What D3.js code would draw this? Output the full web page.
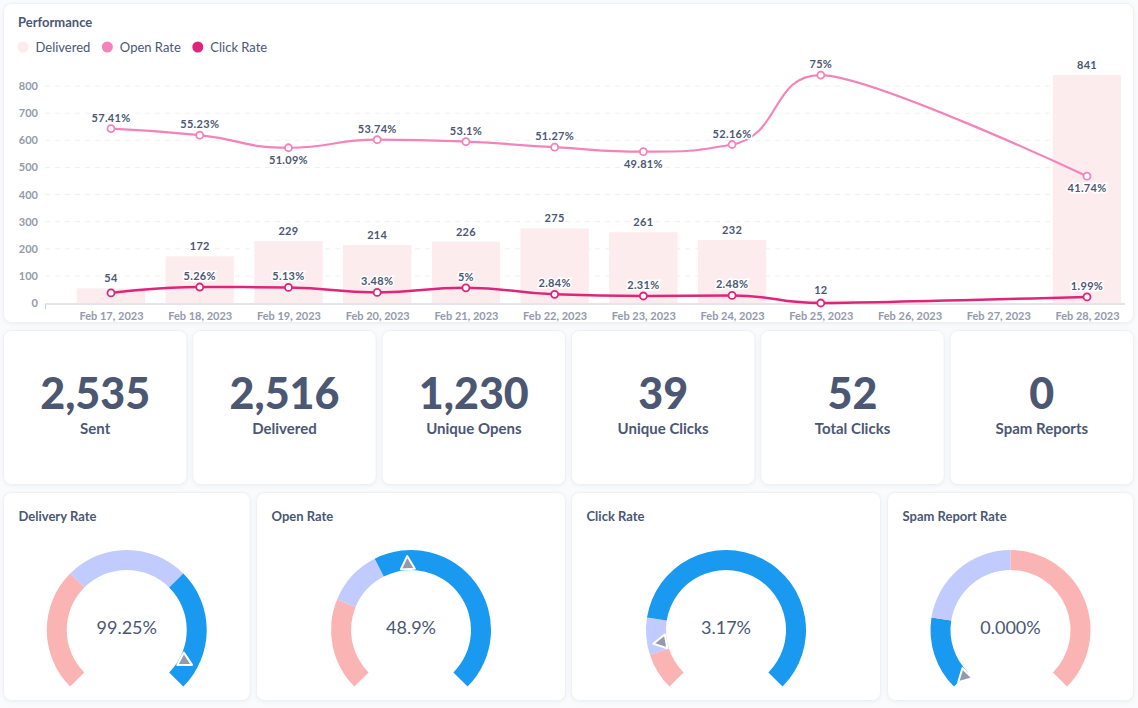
<!DOCTYPE html>
<html>
<head>
<meta charset="utf-8">
<script src="https://cdn.jsdelivr.net/npm/d3@7"></script>
<style>
  html, body { margin: 0; padding: 0; background: #f9fbfc; }
  svg { display: block; font-family: Lato, "Noto Sans", sans-serif; }
  .card { fill: #fff; stroke: #eef0f4; filter: drop-shadow(0 1px 2px rgba(0,0,0,0.05)); }
</style>
</head>
<body>
<script>
// performance chart data
var dates = ["Feb 17, 2023","Feb 18, 2023","Feb 19, 2023","Feb 20, 2023","Feb 21, 2023","Feb 22, 2023",
             "Feb 23, 2023","Feb 24, 2023","Feb 25, 2023","Feb 26, 2023","Feb 27, 2023","Feb 28, 2023"];
var delivered = [54, 172, 229, 214, 226, 275, 261, 232, 12, null, null, 841];
var openRate = [57.41, 55.23, 51.09, 53.74, 53.1, 51.27, 49.81, 52.16, 75, null, null, 41.74];
var clickRate = [3.3, 5.26, 5.13, 3.48, 5, 2.84, 2.31, 2.48, 0, null, null, 1.99];
var yTicks = [0, 100, 200, 300, 400, 500, 600, 700, 800];

// number cards
var statValues = [2535, 2516, 1230, 39, 52, 0];
var statLabels = ["Sent", "Delivered", "Unique Opens", "Unique Clicks", "Total Clicks", "Spam Reports"];

// gauges
var gaugeTitles = ["Delivery Rate", "Open Rate", "Click Rate", "Spam Report Rate"];
var gaugeValues = [99.25, 48.9, 3.17, 0];
var gaugeLabels = ["99.25%", "48.9%", "3.17%", "0.000%"];
var gaugeMins = [88, 0, 0, 0];
var gaugeMaxs = [100, 100, 25, 0.5];
var gaugeSegments = [
  [[88, 92, "red"], [92, 96, "lav"], [96, 100, "blue"]],
  [[0, 25, "red"], [25, 40, "lav"], [40, 100, "blue"]],
  [[0, 2.5, "red"], [2.5, 5, "lav"], [5, 25, "blue"]],
  [[0, 0.1, "blue"], [0.1, 0.25, "lav"], [0.25, 0.5, "red"]]
];

var textDark = "#4c5773";
var textLight = "#949aab";
var barColor = "#fdeced";
var openColor = "#f383ba";
var clickColor = "#e0247a";
var segColors = {"red": "#fbb4b4", "lav": "#c2cbfe", "blue": "#1a99f0"};

var W = 1138, H = 708;

var svg = d3.select("body").append("svg")
  .attr("width", W)
  .attr("height", H);

function card(x, y, w, h) {
  svg.append("rect").attr("class", "card")
    .attr("x", x).attr("y", y).attr("width", w).attr("height", h)
    .attr("rx", 8);
}

// smoothed path, bezier control points clamped between neighbours (no overshoot).
// a point followed by a gap (null) mirrors its incoming handle instead of
// stretching across the gap.
function smoothPath(pts, smooth) {
  var p = d3.path();
  var cp0x, cp0y;
  for (var i = 0; i < pts.length; i++) {
    var px = pts[i].x, py = pts[i].y;
    if (i === 0) { p.moveTo(px, py); cp0x = px; cp0y = py; continue; }
    var prev = pts[i - 1], next = pts[i + 1];
    var cp1x, cp1y, ncx, ncy;
    if (!next) {
      cp1x = px; cp1y = py;
    } else {
      var vx = next.x - prev.x, vy = next.y - prev.y;
      var lenPrev = Math.hypot(px - prev.x, py - prev.y);
      var lenNext = Math.hypot(next.x - px, next.y - py);
      var ratio = lenNext / (lenNext + lenPrev);
      ncx = px + vx * smooth * ratio;
      ncy = py + vy * smooth * ratio;
      ncx = Math.max(Math.min(ncx, Math.max(next.x, px)), Math.min(next.x, px));
      ncy = Math.max(Math.min(ncy, Math.max(next.y, py)), Math.min(next.y, py));
      vx = ncx - px; vy = ncy - py;
      cp1x = px - vx * lenPrev / lenNext;
      cp1y = py - vy * lenPrev / lenNext;
      cp1x = Math.max(Math.min(cp1x, Math.max(prev.x, px)), Math.min(prev.x, px));
      cp1y = Math.max(Math.min(cp1y, Math.max(prev.y, py)), Math.min(prev.y, py));
      vx = px - cp1x; vy = py - cp1y;
      if (pts[i].gapAfter) {
        ncx = px + vx; ncy = py + vy;
      } else {
        ncx = px + vx * lenNext / lenPrev;
        ncy = py + vy * lenNext / lenPrev;
      }
    }
    p.bezierCurveTo(cp0x, cp0y, cp1x, cp1y, px, py);
    cp0x = ncx; cp0y = ncy;
  }
  return p.toString();
}

// ---------- performance card ----------
card(3.5, 3.5, 1130, 319);

svg.append("text").attr("x", 18).attr("y", 26.5)
  .attr("fill", textDark).attr("font-size", 13).attr("font-weight", 700)
  .text("Performance");

var legend = [["Delivered", barColor], ["Open Rate", openColor], ["Click Rate", clickColor]];
var lx = 23;
legend.forEach(function(l) {
  svg.append("circle").attr("cx", lx).attr("cy", 47).attr("r", 5.5).attr("fill", l[1]);
  var t = svg.append("text").attr("x", lx + 12.5).attr("y", 51.5)
    .attr("fill", textDark).attr("font-size", 13)
    .text(l[0]);
  lx += 12.5 + t.node().getComputedTextLength() + 17;
});

var x = d3.scalePoint().domain(dates).range([111, 1087]);
var barW = x.step() * 0.77;
var y = d3.scaleLinear().domain([0, 900]).range([303, 59]);
var y2 = d3.scaleLinear().domain([0, 80.3]).range([303, 59]);

// grid
svg.append("g").selectAll("line")
  .data(yTicks.slice(1))
  .enter().append("line")
  .attr("x1", 45).attr("x2", 1120)
  .attr("y1", function(d) { return y(d); })
  .attr("y2", function(d) { return y(d); })
  .attr("stroke", "#edf0f3")
  .attr("stroke-dasharray", "5,5");

var yAxis = svg.append("g")
  .attr("transform", "translate(38,0)")
  .call(d3.axisLeft(y).tickValues(yTicks).tickSize(0).tickPadding(0));
yAxis.select(".domain").remove();
yAxis.selectAll("text").attr("fill", textLight).attr("font-size", 11)
  .attr("font-weight", 700).attr("font-family", "Lato");

// bars
var barData = dates.map(function(d, i) { return {date: d, v: delivered[i]}; })
  .filter(function(d) { return d.v !== null; });
svg.append("g").selectAll("rect")
  .data(barData)
  .enter().append("rect")
  .attr("x", function(d) { return x(d.date) - barW / 2; })
  .attr("y", function(d) { return y(d.v); })
  .attr("width", barW)
  .attr("height", function(d) { return y(0) - y(d.v); })
  .attr("fill", barColor);

// x axis
svg.append("line").attr("x1", 45).attr("x2", 1125).attr("y1", 304).attr("y2", 304)
  .attr("stroke", "#c9ccd5");
svg.append("line").attr("x1", 45.5).attr("x2", 45.5).attr("y1", 304).attr("y2", 309)
  .attr("stroke", "#c9ccd5");
var xAxis = svg.append("g")
  .attr("transform", "translate(0,304)")
  .call(d3.axisBottom(x).tickSize(0).tickPadding(8));
xAxis.select(".domain").remove();
xAxis.selectAll("text").attr("fill", textLight).attr("font-size", 11)
  .attr("font-weight", 700).attr("font-family", "Lato");

// lines
function seriesPoints(vals) {
  return dates.map(function(d, i) {
    return {date: d, v: vals[i], i: i, gapAfter: i < vals.length - 1 && vals[i + 1] === null};
  }).filter(function(d) { return d.v !== null; });
}
var openPts = seriesPoints(openRate);
var clickPts = seriesPoints(clickRate);

function toPx(pts) {
  return pts.map(function(d) { return {x: x(d.date), y: y2(d.v), gapAfter: d.gapAfter}; });
}

svg.append("path").attr("d", smoothPath(toPx(openPts), 0.5))
  .attr("fill", "none").attr("stroke", openColor).attr("stroke-width", 2.2);
svg.append("path").attr("d", smoothPath(toPx(clickPts), 0.5))
  .attr("fill", "none").attr("stroke", clickColor).attr("stroke-width", 2.5);

[[openPts, openColor], [clickPts, clickColor]].forEach(function(s) {
  svg.append("g").selectAll("circle")
    .data(s[0])
    .enter().append("circle")
    .attr("cx", function(d) { return x(d.date); })
    .attr("cy", function(d) { return y2(d.v); })
    .attr("r", 3.5)
    .attr("fill", "#fff")
    .attr("stroke", s[1])
    .attr("stroke-width", 1.8);
});

// labels
function label(px, py, txt) {
  svg.append("text").attr("x", px).attr("y", py)
    .attr("text-anchor", "middle")
    .attr("font-size", 11).attr("font-weight", 700)
    .attr("fill", textDark)
    .attr("stroke", "#fff").attr("stroke-width", 3).attr("paint-order", "stroke")
    .attr("letter-spacing", 0.3)
    .text(txt);
}
var barLabelY = {};
barData.forEach(function(d) {
  barLabelY[d.date] = y(d.v) - 6;
  label(x(d.date), y(d.v) - 6, d.v);
});
openPts.forEach(function(d, k) {
  var prev = openPts[k - 1], next = openPts[k + 1];
  var isMin = (!prev || d.v < prev.v) && (!next || d.v < next.v);
  var ly = isMin ? y2(d.v) + 16 : y2(d.v) - 7;
  label(x(d.date), ly, d.v + "%");
});
clickPts.forEach(function(d) {
  var ly = y2(d.v) - 7;
  if (barLabelY[d.date] !== undefined && Math.abs(barLabelY[d.date] - ly) < 12) return;
  label(x(d.date), ly, d.v + "%");
});

// ---------- number cards ----------
var statW = (1130 - 5 * 6) / 6;
var fmt = d3.format(",");
statValues.forEach(function(v, i) {
  var cx = 3.5 + i * (statW + 6);
  card(cx, 330.5, statW, 154);
  svg.append("text").attr("x", cx + statW / 2).attr("y", 409)
    .attr("text-anchor", "middle").attr("fill", textDark)
    .attr("font-size", 43).attr("font-weight", 900)
    .text(fmt(v));
  svg.append("text").attr("x", cx + statW / 2).attr("y", 434)
    .attr("text-anchor", "middle").attr("fill", textDark)
    .attr("font-size", 15).attr("font-weight", 700)
    .text(statLabels[i]);
});

// ---------- gauges ----------
var gaugeX = [3.5, 256.5, 571.5, 887.5];
var gaugeW = [246.5, 309, 309, 246];
var arc = d3.arc().innerRadius(60).outerRadius(80);

gaugeTitles.forEach(function(title, i) {
  card(gaugeX[i], 492.5, gaugeW[i], 208);
  svg.append("text").attr("x", gaugeX[i] + 15).attr("y", 520.5)
    .attr("fill", textDark).attr("font-size", 13).attr("font-weight", 700)
    .text(title);

  var a = d3.scaleLinear().domain([gaugeMins[i], gaugeMaxs[i]]).range([-Math.PI * 0.75, Math.PI * 0.75]);
  var g = svg.append("g")
    .attr("transform", "translate(" + (gaugeX[i] + gaugeW[i] / 2) + ",630)");

  g.selectAll("path.seg")
    .data(gaugeSegments[i])
    .enter().append("path")
    .attr("class", "seg")
    .attr("d", function(s) { return arc({startAngle: a(s[0]), endAngle: a(s[1])}); })
    .attr("fill", function(s) { return segColors[s[2]]; });

  // needle
  var ang = a(gaugeValues[i]) * 180 / Math.PI;
  g.append("path")
    .attr("d", "M0,-74L-7,-61L7,-61Z")
    .attr("transform", "rotate(" + ang + ")")
    .attr("fill", textLight)
    .attr("stroke", "#fff")
    .attr("stroke-width", 2)
    .attr("stroke-linejoin", "round");

  g.append("text").attr("y", 3.5).attr("text-anchor", "middle")
    .attr("fill", textDark).attr("font-size", 18)
    .text(gaugeLabels[i]);
});
</script>
</body>
</html>
